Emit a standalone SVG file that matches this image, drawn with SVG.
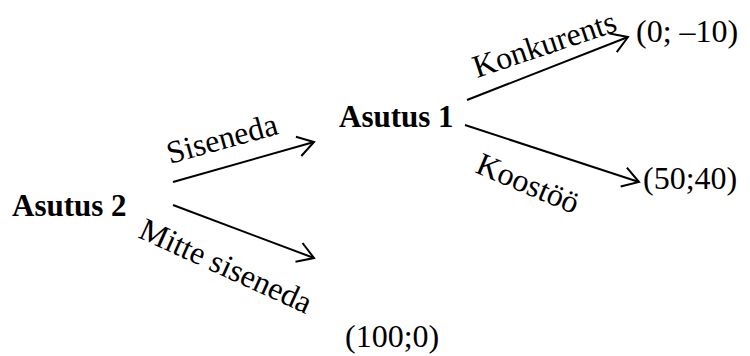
<svg xmlns="http://www.w3.org/2000/svg" width="750" height="356" viewBox="0 0 750 356">
<style>
.node{font-family:"Liberation Serif","Times New Roman",serif;font-weight:bold;font-size:31px;fill:#000}
.pay{font-family:"Liberation Serif","Times New Roman",serif;font-size:32px;fill:#000}
.lbl{font-family:"Liberation Serif","Times New Roman",serif;font-size:32px;fill:#000}
.edge{stroke:#000;stroke-width:2;fill:none;marker-end:url(#arr)}
</style>
<defs>
<marker id="arr" markerUnits="userSpaceOnUse" viewBox="-18 -12 20 24" markerWidth="20" markerHeight="24" refX="0" refY="0" orient="auto">
<path d="M-16,-10 L0,0 L-16,10" fill="none" stroke="#000" stroke-width="2"/>
</marker>
</defs>
<rect width="750" height="356" fill="#fff"/>
<g id="connectors">
<line class="edge" x1="173" y1="182" x2="314" y2="142"/>
<line class="edge" x1="173" y1="205" x2="314" y2="258"/>
<line class="edge" x1="467" y1="100" x2="628" y2="37"/>
<line class="edge" x1="465" y1="125" x2="639" y2="182"/>
<text class="lbl" transform="translate(170,164) rotate(-15.5)">Siseneda</text>
<text class="lbl" transform="translate(137,237) rotate(24.5)">Mitte siseneda</text>
<text class="lbl" transform="translate(477,78) rotate(-18.5)">Konkurents</text>
<text class="lbl" transform="translate(474,172) rotate(23)">Koostöö</text>
</g>
<g id="asutus2"><text class="node" x="12" y="216">Asutus 2</text></g>
<g id="asutus1"><text class="node" x="339" y="127">Asutus 1</text></g>
<g id="payoff1"><text class="pay" x="636" y="42">(0; –10)</text></g>
<g id="payoff2"><text class="pay" x="643" y="189">(50;40)</text></g>
<g id="payoff3"><text class="pay" x="345" y="347">(100;0)</text></g>
</svg>
